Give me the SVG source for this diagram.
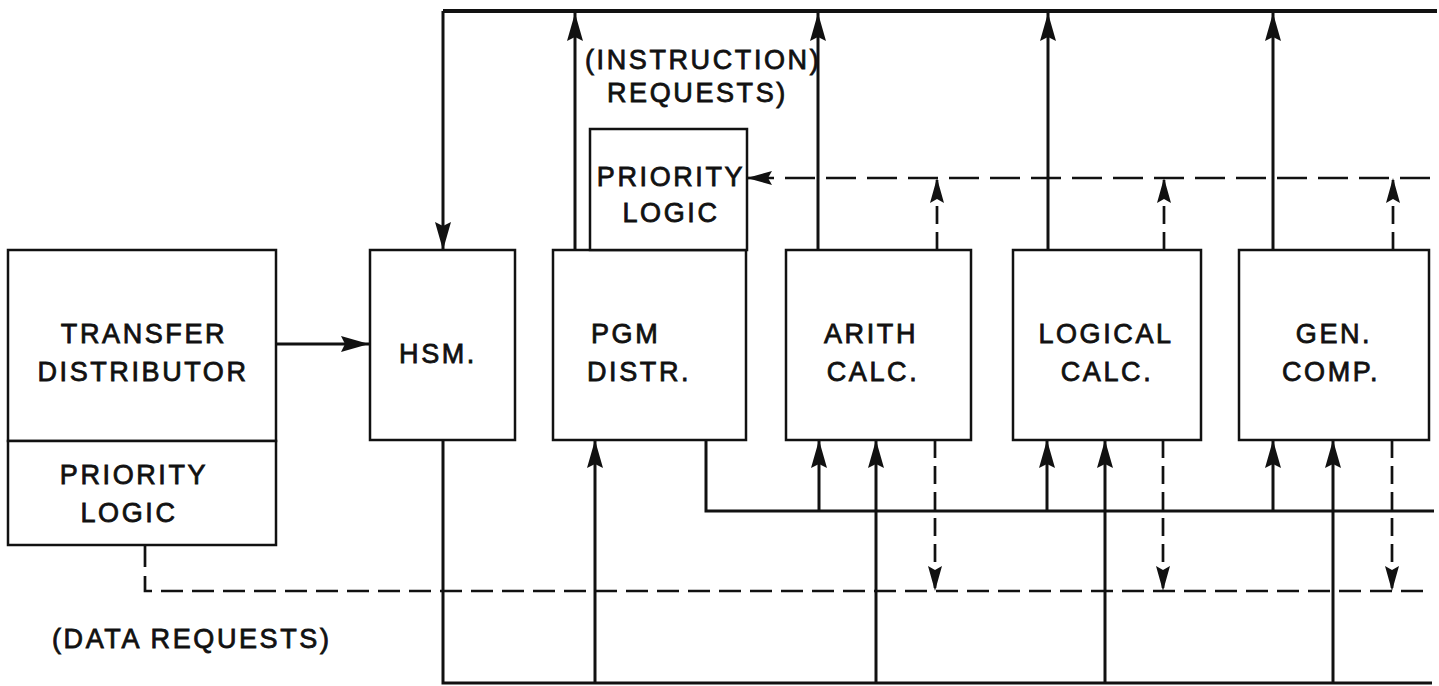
<svg xmlns="http://www.w3.org/2000/svg" width="1439" height="686" viewBox="0 0 1439 686">
  <defs>
    <style>
      .box { fill: #fff; stroke: #111; stroke-width: 2.5; }
      .lbl { font-family: "Liberation Sans", Arial, sans-serif; font-size: 27px; fill: #111; stroke: #111; stroke-width: 0.8; letter-spacing: 2.6px; text-anchor: middle; }
      .lbl.start { text-anchor: start; }
      .wire { fill: none; stroke: #111; stroke-width: 3; }
      .bus { fill: none; stroke: #111; stroke-width: 4; }
      .dash { fill: none; stroke: #111; stroke-width: 2.7; stroke-dasharray: 22 9; }
      .dash-up { fill: none; stroke: #111; stroke-width: 2.7; stroke-dasharray: 18 8; }
    </style>
    <marker id="arrow" markerUnits="userSpaceOnUse" viewBox="0 0 28 16" refX="28" refY="8" markerWidth="28" markerHeight="16" orient="auto">
      <path d="M0,0 L28,8 L0,16 L4,8 Z" fill="#111"/>
    </marker>
    <marker id="arrow-sm" markerUnits="userSpaceOnUse" viewBox="0 0 25 14" refX="25" refY="7" markerWidth="25" markerHeight="14" orient="auto">
      <path d="M0,0 L25,7 L0,14 L4,7 Z" fill="#111"/>
    </marker>
  </defs>

  <rect width="1439" height="686" fill="#fff"/>

  <!-- signal paths -->
  <g id="connectors">
    <!-- instruction request bus along the top -->
    <path class="bus" d="M443,11 H1437"/>
    <path class="wire" d="M443,11 V250" marker-end="url(#arrow)"/>
    <path class="wire" d="M575,250 V13" marker-end="url(#arrow)"/>
    <path class="wire" d="M818,250 V13" marker-end="url(#arrow)"/>
    <path class="wire" d="M1048,250 V13" marker-end="url(#arrow)"/>
    <path class="wire" d="M1273,250 V13" marker-end="url(#arrow)"/>

    <!-- instruction priority requests -->
    <path class="dash" d="M1430,178 H747" style="stroke-dasharray: 30 11" marker-end="url(#arrow-sm)"/>
    <path class="dash-up" d="M937,250 V178" marker-end="url(#arrow-sm)"/>
    <path class="dash-up" d="M1164,250 V178" marker-end="url(#arrow-sm)"/>
    <path class="dash-up" d="M1393,250 V178" marker-end="url(#arrow-sm)"/>

    <!-- transfer distributor to HSM -->
    <path class="wire" d="M276,344 H369" marker-end="url(#arrow)"/>

    <!-- program distribution bus -->
    <path class="wire" d="M706,440 V511 H1434"/>
    <path class="wire" d="M819,511 V440" marker-end="url(#arrow)"/>
    <path class="wire" d="M1047,511 V440" marker-end="url(#arrow)"/>
    <path class="wire" d="M1273,511 V440" marker-end="url(#arrow)"/>

    <!-- HSM data bus along the bottom -->
    <path class="wire" d="M443,440 V683 H1432"/>
    <path class="wire" d="M595,683 V440" marker-end="url(#arrow)"/>
    <path class="wire" d="M876,683 V440" marker-end="url(#arrow)"/>
    <path class="wire" d="M1105,683 V440" marker-end="url(#arrow)"/>
    <path class="wire" d="M1333,683 V440" marker-end="url(#arrow)"/>

    <!-- data priority requests -->
    <path class="dash" d="M145,545 V591 H1430"/>
    <path class="dash-up" d="M935,440 V591" marker-end="url(#arrow-sm)"/>
    <path class="dash-up" d="M1163,440 V591" marker-end="url(#arrow-sm)"/>
    <path class="dash-up" d="M1392,440 V591" marker-end="url(#arrow-sm)"/>
  </g>

  <g id="transfer-distributor">
    <rect class="box" x="8" y="250" width="268" height="191"/>
    <text class="lbl" x="144" y="343">TRANSFER</text>
    <text class="lbl" x="143" y="381">DISTRIBUTOR</text>
  </g>

  <g id="td-priority-logic">
    <rect class="box" x="8" y="441" width="268" height="104"/>
    <text class="lbl" x="134" y="484">PRIORITY</text>
    <text class="lbl" x="129" y="522">LOGIC</text>
  </g>

  <g id="hsm">
    <rect class="box" x="370" y="250" width="145" height="190"/>
    <text class="lbl" x="438" y="363">HSM.</text>
  </g>

  <g id="pgm-distr">
    <rect class="box" x="553" y="250" width="193" height="190"/>
    <text class="lbl start" x="591" y="343">PGM</text>
    <text class="lbl start" x="587" y="381">DISTR.</text>
  </g>

  <g id="pgm-priority-logic">
    <rect class="box" x="590" y="129" width="157" height="121"/>
    <text class="lbl" x="671" y="186">PRIORITY</text>
    <text class="lbl" x="671" y="222">LOGIC</text>
  </g>

  <g id="arith-calc">
    <rect class="box" x="786" y="250" width="185" height="190"/>
    <text class="lbl" x="871" y="343">ARITH</text>
    <text class="lbl" x="873" y="381">CALC.</text>
  </g>

  <g id="logical-calc">
    <rect class="box" x="1013" y="250" width="188" height="190"/>
    <text class="lbl" x="1106" y="343">LOGICAL</text>
    <text class="lbl" x="1107" y="381">CALC.</text>
  </g>

  <g id="gen-comp">
    <rect class="box" x="1239" y="250" width="190" height="190"/>
    <text class="lbl" x="1334" y="343">GEN.</text>
    <text class="lbl" x="1331" y="381">COMP.</text>
  </g>

  <g id="labels">
    <text class="lbl start" x="585" y="69">(INSTRUCTION)</text>
    <text class="lbl start" x="607" y="102">REQUESTS)</text>
    <text class="lbl start" x="52" y="648">(DATA REQUESTS)</text>
  </g>
</svg>
